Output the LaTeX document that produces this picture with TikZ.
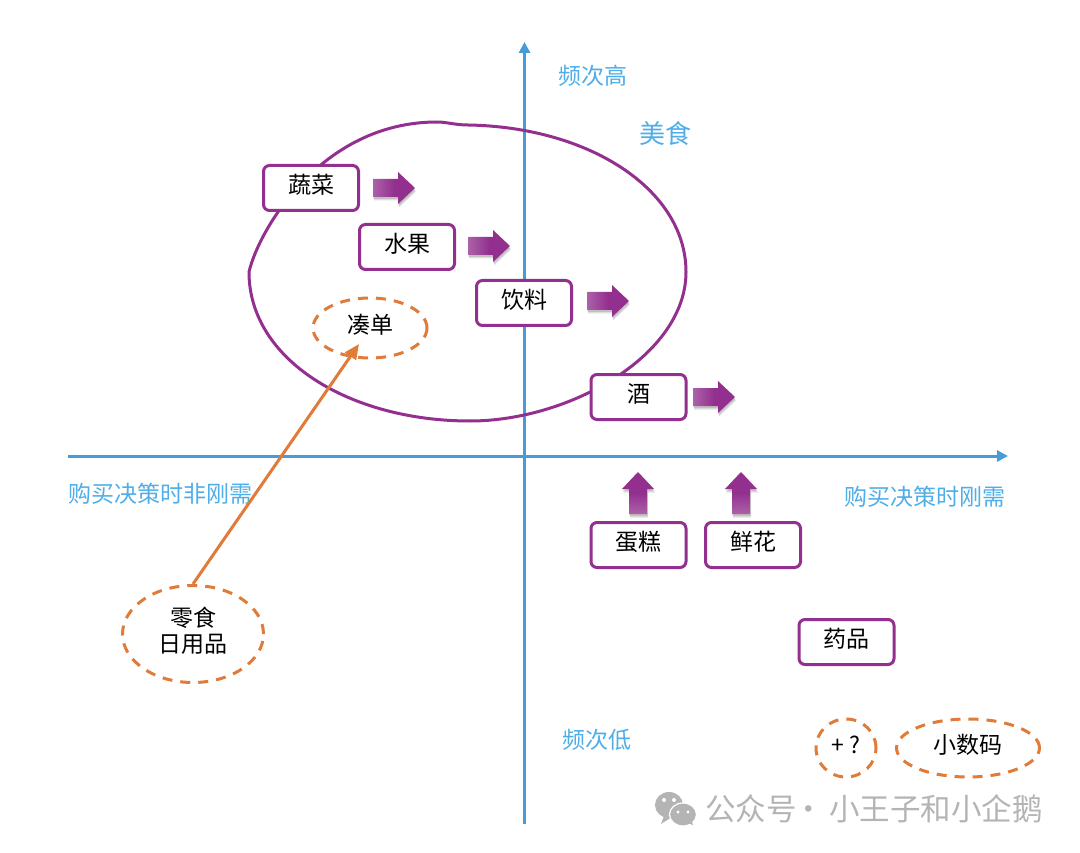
\documentclass[tikz,border=0pt]{standalone}
\usepackage{fontspec}
\setmainfont{Noto Sans CJK SC}
\usetikzlibrary{arrows.meta,shapes.geometric}
\definecolor{pur}{HTML}{93308F}
\definecolor{purl}{HTML}{AB62A8}
\definecolor{axisb}{HTML}{459CD8}
\definecolor{labb}{HTML}{4FAEE8}
\definecolor{org}{HTML}{E07B39}
\definecolor{wm}{HTML}{B4B4B4}
\newcommand{\rs}[1]{\raisebox{3pt}[\height][\depth]{#1}}
\tikzset{
  catbox/.style={draw=pur,line width=3pt,rounded corners=6pt,fill=white,minimum width=95pt,minimum height=45pt,inner sep=0pt,font=\fontsize{23}{28}\selectfont},
  dashell/.style={ellipse,draw=org,line width=3pt,dash pattern=on 10pt off 8pt,fill=white,inner sep=0pt,font=\fontsize{23}{28}\selectfont,align=center},
  axisline/.style={draw=axisb,line width=3pt,-{Triangle[length=11pt,width=11pt]}},
  lab/.style={text=labb,inner sep=0pt,font=\fontsize{23}{27}\selectfont},
  ptr/.style={draw=org,line width=3pt,-{Triangle[length=15pt,width=13pt]}},
  blobline/.style={draw=pur,line width=3pt},
  arrowshadow/.style={fill=black,opacity=0.13}
}
\newcommand{\rarrowshape}[2]{(#1,#2-9) -- (#1+25,#2-9) -- (#1+25,#2-16) -- (#1+42,#2) -- (#1+25,#2+16) -- (#1+25,#2+9) -- (#1,#2+9) -- cycle}
\newcommand{\uarrowshape}[2]{(#1-9,#2) -- (#1-9,#2-25) -- (#1-16,#2-25) -- (#1,#2-42) -- (#1+16,#2-25) -- (#1+9,#2-25) -- (#1+9,#2) -- cycle}
\newcommand{\rblock}[2]{%
  \fill[arrowshadow] \rarrowshape{#1+1}{#2+3.5};
  \fill[arrowshadow] \rarrowshape{#1+0.5}{#2+2};
  \shade[left color=purl,right color=pur,middle color=pur] \rarrowshape{#1}{#2};}
\newcommand{\ublock}[2]{%
  \fill[arrowshadow] \uarrowshape{#1+1}{#2+3.5};
  \fill[arrowshadow] \uarrowshape{#1+0.5}{#2+2};
  \shade[bottom color=purl,top color=pur,middle color=pur] \uarrowshape{#1}{#2};}
\begin{document}
\begin{tikzpicture}[x=1pt,y=-1pt]
\useasboundingbox[fill=white] (0,0) rectangle (1080,853);
\coordinate (xs) at (68,456);
\coordinate (xe) at (1008,456);
\coordinate (ys) at (524.5,824);
\coordinate (ye) at (524.5,42);
\draw[axisline] (xs) -- (xe);
\draw[axisline] (ys) -- (ye);
\draw[blobline] (249,272) .. controls (258,232) and (320,122) .. (437,122)
  .. controls (447,122) and (455,125) .. (468,125)
  .. controls (590,127) and (686,190) .. (686,272)
  .. controls (686,355) and (570,421) .. (470,421)
  .. controls (350,421) and (249,360) .. (249,272) -- cycle;
\node[lab] (high) at (593,76) {频次高};
\node[lab] (low) at (597,740) {频次低};
\node[lab,anchor=west] (left) at (68,494) {购买决策时非刚需};
\node[lab,anchor=east] (right) at (1006,497) {购买决策时刚需};
\node[lab,font=\fontsize{26}{30}\selectfont] (food) at (665,134) {美食};
\rblock{373}{188}
\rblock{468}{246}
\rblock{587}{301}
\rblock{693}{397}
\ublock{638}{514}
\ublock{741}{514}
\node[catbox] (shucai) at (311,188) {\rs{蔬菜}};
\node[catbox] (shuiguo) at (407,247) {\rs{水果}};
\node[catbox] (yinliao) at (524,303) {\rs{饮料}};
\node[catbox] (jiu) at (638.5,397) {\rs{酒}};
\node[catbox] (dangao) at (638.5,545) {\rs{蛋糕}};
\node[catbox] (xianhua) at (753,545) {\rs{鲜花}};
\node[catbox] (yaopin) at (846.5,642) {\rs{药品}};
\node[dashell,minimum width=114pt,minimum height=60pt] (coudan) at (370,328) {\rs{凑单}};
\node[dashell,minimum width=141pt,minimum height=97pt,font=\fontsize{23}{26}\selectfont] (lingshi) at (193,634) {\rs{零食}\\\rs{日用品}};
\node[dashell,minimum width=60pt,minimum height=58pt] (plus) at (846,748) {\rs{+ ?}};
\node[dashell,minimum width=143pt,minimum height=58pt] (xiao) at (968,748) {\rs{小数码}};
\coordinate (ptrend) at (359,344);
\draw[ptr] (lingshi.north) -- (ptrend);
\fill[wm] (669,805) ellipse (14pt and 13pt);
\fill[wm] (664,816) -- (661,824) -- (672,817) -- cycle;
\fill[wm,draw=white,line width=1.2pt] (683,814.5) ellipse (13.5pt and 11.5pt);
\fill[wm] (688,823) -- (693,825) -- (691,819) -- cycle;
\fill[white] (664,800) circle (2pt) (674,800) circle (2pt) (678,812) circle (1.7pt) (688,812) circle (1.7pt);
\node[text=wm,inner sep=0pt,anchor=west,font=\fontsize{30.5}{34}\selectfont] (mark) at (705,809) {公众号\hspace{-3pt}·\hspace{5pt}小王子和小企鹅};
\end{tikzpicture}
\end{document}
